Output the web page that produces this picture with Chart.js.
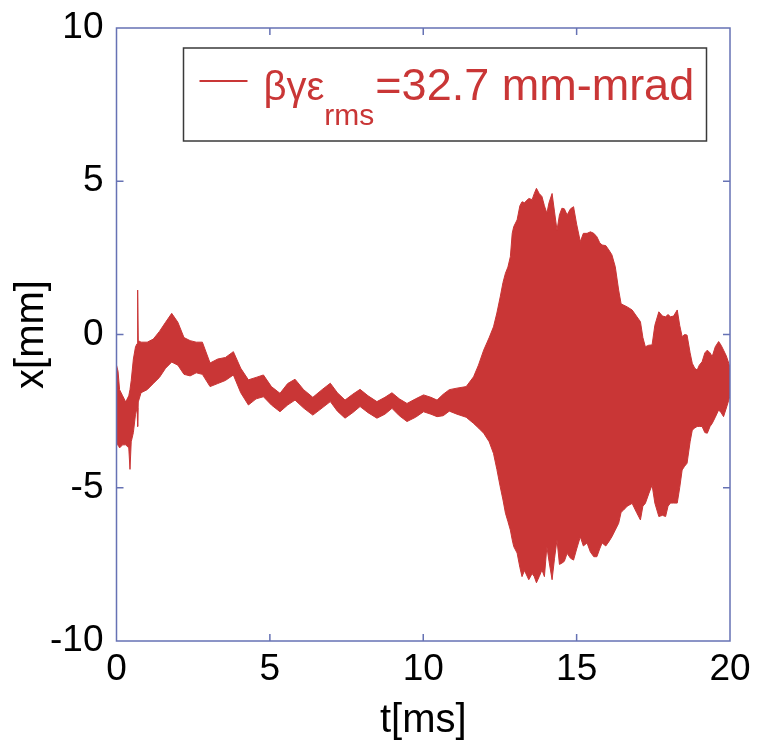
<!DOCTYPE html>
<html>
<head>
<meta charset="utf-8">
<script src="https://cdn.jsdelivr.net/npm/chart.js@4.4.1/dist/chart.umd.min.js"></script>
<style>
html,body{margin:0;padding:0;background:#fff;}
#wrap{width:769px;height:749px;}
</style>
</head>
<body>
<div id="wrap"><canvas id="c" width="769" height="749"></canvas></div>
<script>
// time samples [ms]
const tMs = [0.00,0.05,0.10,0.20,0.30,0.40,0.44,0.48,0.55,0.62,0.67,0.69,0.71,0.80,1.00,1.20,1.40,1.60,1.80,2.00,2.20,2.40,2.60,2.80,3.05,3.30,3.55,3.81,4.05,4.30,4.55,4.79,5.05,5.33,5.58,5.82,6.10,6.40,6.70,6.97,7.20,7.45,7.70,7.94,8.20,8.49,8.75,8.98,9.22,9.47,9.75,10.01,10.25,10.45,10.65,10.85,11.10,11.40,11.64,11.80,11.97,12.15,12.29,12.40,12.51,12.60,12.68,12.76,12.84,12.90,12.95,13.06,13.15,13.22,13.30,13.44,13.55,13.62,13.69,13.78,13.87,13.95,14.03,14.10,14.20,14.28,14.36,14.44,14.52,14.60,14.69,14.80,14.90,15.00,15.12,15.22,15.34,15.45,15.56,15.66,15.75,15.83,15.95,16.05,16.15,16.26,16.37,16.45,16.53,16.65,16.81,16.95,17.08,17.16,17.24,17.35,17.46,17.55,17.68,17.80,17.90,17.98,18.06,18.16,18.28,18.36,18.44,18.52,18.60,18.70,18.77,18.85,18.93,19.00,19.09,19.18,19.26,19.35,19.42,19.52,19.63,19.71,19.79,19.88,19.96,20.00];
// upper envelope of x [mm]
const xUpper = [-1.0,-1.2,-1.8,-2.0,-2.2,-2.0,-1.8,-1.5,-0.8,-0.4,-0.3,1.45,-0.2,-0.25,-0.25,-0.15,0.1,0.4,0.69,0.4,-0.1,-0.2,-0.25,-0.25,-0.93,-0.8,-0.75,-0.56,-1.1,-1.48,-1.4,-1.32,-1.7,-1.92,-1.6,-1.46,-1.8,-2.05,-1.8,-1.59,-1.9,-2.14,-1.95,-1.79,-2.0,-2.19,-2.05,-1.9,-2.1,-2.25,-2.1,-1.97,-2.05,-2.14,-1.95,-1.8,-1.75,-1.7,-1.38,-1.0,-0.51,-0.1,0.25,0.7,1.23,1.7,2.0,2.2,2.54,3.3,3.52,3.74,4.2,4.33,4.3,4.44,4.4,4.6,4.77,4.6,4.5,4.2,3.96,4.3,4.6,4.0,3.4,3.9,4.12,4.1,3.9,4.1,4.17,3.6,3.03,3.3,3.3,3.35,3.3,3.19,3.0,2.92,2.9,2.76,2.6,2.21,1.45,1.0,0.96,0.9,0.8,0.6,0.42,-0.1,-0.4,-0.35,-0.34,0.3,0.74,0.6,0.58,0.65,0.58,0.6,0.8,0.3,-0.07,0.0,-0.02,-0.6,-0.94,-1.1,-1.16,-1.0,-0.89,-0.6,-0.51,-0.6,-0.72,-0.4,-0.23,-0.35,-0.51,-0.7,-0.94,-1.1];
// lower envelope of x [mm]
const xLower = [-3.6,-3.6,-3.7,-3.6,-3.6,-3.7,-4.4,-3.5,-3.2,-2.6,-2.4,-3.0,-2.2,-1.9,-1.8,-1.6,-1.4,-1.1,-0.9,-1.0,-1.3,-1.35,-1.25,-1.3,-1.7,-1.6,-1.5,-1.32,-1.9,-2.3,-2.1,-2.03,-2.3,-2.52,-2.3,-2.14,-2.4,-2.63,-2.4,-2.19,-2.5,-2.73,-2.55,-2.35,-2.55,-2.73,-2.6,-2.41,-2.65,-2.84,-2.7,-2.52,-2.6,-2.68,-2.65,-2.5,-2.6,-2.7,-2.9,-3.05,-3.22,-3.5,-3.88,-4.4,-4.97,-5.4,-5.83,-6.1,-6.38,-6.7,-6.92,-7.13,-7.6,-7.9,-7.7,-8.0,-7.8,-7.9,-8.1,-7.9,-7.68,-7.9,-6.92,-7.4,-8.0,-7.3,-6.7,-7.5,-7.46,-7.4,-7.14,-7.3,-7.36,-7.0,-6.6,-6.9,-6.8,-7.1,-7.25,-7.25,-7.0,-6.8,-6.9,-6.76,-6.6,-6.38,-6.16,-5.8,-5.73,-5.6,-5.51,-5.8,-6.05,-5.6,-5.51,-5.2,-4.91,-5.5,-5.94,-5.9,-5.94,-5.6,-5.5,-5.5,-5.5,-5.0,-4.42,-4.3,-4.2,-3.5,-3.12,-3.05,-3.0,-3.0,-3.0,-3.2,-3.22,-3.0,-2.9,-2.7,-2.46,-2.55,-2.68,-2.4,-2.14,-2.0];
const xTicks = [0,5,10,15,20];
const yTicks = [-10,-5,0,5,10];
const legendName = "βγε";
const legendSub = "rms";
const legendValue = "=32.7 mm-mrad";

const RED = '#c93636';
const FRAME = '#6672b4';
const FONT = '"Liberation Sans", Arial, sans-serif';

const upperPts = tMs.map((t,i)=>({x:t,y:xUpper[i]}));
const lowerPts = tMs.map((t,i)=>({x:t,y:xLower[i]}));

function noPad(s){ s.paddingTop = 0; s.paddingBottom = 0; s.paddingLeft = 0; s.paddingRight = 0; }

const framePlugin = {
  id:'frame',
  afterDatasetsDraw(chart){
    const {ctx, chartArea:a, scales:{x,y}} = chart;
    ctx.save();
    ctx.strokeStyle = FRAME;
    ctx.lineWidth = 1.5;
    ctx.strokeRect(a.left, a.top, a.right-a.left, a.bottom-a.top);
    const L = 7;
    ctx.beginPath();
    xTicks.slice(1,-1).forEach(v=>{
      const px = x.getPixelForValue(v);
      ctx.moveTo(px,a.bottom); ctx.lineTo(px,a.bottom-L);
      ctx.moveTo(px,a.top); ctx.lineTo(px,a.top+L);
    });
    yTicks.slice(1,-1).forEach(v=>{
      const py = y.getPixelForValue(v);
      ctx.moveTo(a.left,py); ctx.lineTo(a.left+L,py);
      ctx.moveTo(a.right,py); ctx.lineTo(a.right-L,py);
    });
    ctx.stroke();

    // legend box
    const bx = a.left + 67, by = a.top + 20, bw = 523, bh = 93;
    ctx.fillStyle = '#fff';
    ctx.fillRect(bx,by,bw,bh);
    ctx.strokeStyle = '#3a3a3a';
    ctx.lineWidth = 1.5;
    ctx.strokeRect(bx,by,bw,bh);
    ctx.strokeStyle = RED;
    ctx.lineWidth = 2;
    ctx.beginPath();
    ctx.moveTo(bx+16, by+33); ctx.lineTo(bx+64, by+33);
    ctx.stroke();
    ctx.fillStyle = RED;
    ctx.textBaseline = 'alphabetic';
    ctx.textAlign = 'left';
    let tx = bx + 80;
    ctx.font = '40px ' + FONT;
    ctx.fillText(legendName, tx, by+52);
    tx += ctx.measureText(legendName).width;
    ctx.font = '30px ' + FONT;
    ctx.fillText(legendSub, tx, by+77);
    tx += ctx.measureText(legendSub).width + 1;
    ctx.font = '45px ' + FONT;
    ctx.fillText(legendValue, tx, by+52);
    ctx.restore();
  }
};

new Chart(document.getElementById('c'), {
  type:'line',
  data:{
    datasets:[
      {data:upperPts, borderColor:RED, backgroundColor:RED, borderWidth:1, pointRadius:0, fill:'+1', tension:0},
      {data:lowerPts, borderColor:RED, backgroundColor:RED, borderWidth:1, pointRadius:0, fill:false, tension:0}
    ]
  },
  options:{
    responsive:false,
    animation:false,
    devicePixelRatio:1,
    layout:{padding:{top:28,right:39,left:0,bottom:0}},
    plugins:{legend:{display:false}, tooltip:{enabled:false}},
    scales:{
      x:{
        type:'linear', min:0, max:20,
        afterFit(s){ s.height = 108; noPad(s); },
        afterBuildTicks(s){ s.ticks = xTicks.map(v=>({value:v})); },
        grid:{display:false, drawTicks:false}, border:{display:false},
        ticks:{color:'#000', font:{size:37, family:FONT}, padding:7, maxRotation:0},
        title:{display:true, text:'t[ms]', color:'#000', font:{size:40, family:FONT}, padding:{top:0,bottom:4}}
      },
      y:{
        type:'linear', min:-10, max:10,
        afterFit(s){ s.width = 116.5; noPad(s); },
        afterBuildTicks(s){ s.ticks = yTicks.map(v=>({value:v})); },
        grid:{display:false, drawTicks:false}, border:{display:false},
        ticks:{color:'#000', font:{size:37, family:FONT}, padding:13},
        title:{display:true, text:'x[mm]', color:'#000', font:{size:40, family:FONT}, padding:{top:8,bottom:0}}
      }
    }
  },
  plugins:[framePlugin]
});
</script>
</body>
</html>
